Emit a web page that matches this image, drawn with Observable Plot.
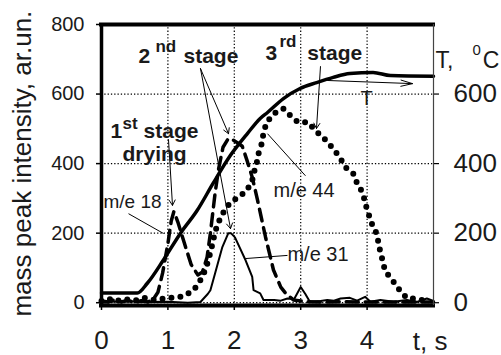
<!DOCTYPE html>
<html>
<head>
<meta charset="utf-8">
<script src="https://cdn.jsdelivr.net/npm/d3@7"></script>
<script src="https://cdn.jsdelivr.net/npm/@observablehq/plot@0.6"></script>
<style>
  html, body { margin: 0; padding: 0; background: #fff; }
  svg { display: block; }
</style>
</head>
<body>
<div id="chart"></div>
<script>
// time (s), value pairs
const tempC = [[0,28],[0.54,28],[0.69,56],[0.93,122],[1.19,200],[1.44,265],[1.68,343],[1.94,423],[2.2,487],[2.39,530],[2.5,547],[2.74,587],[2.99,616],[3.24,633],[3.49,648],[3.74,659],[4.09,662],[4.35,653],[5,651]];

const me18 = [[0,5],[0.1,2],[0.2,9],[0.3,2],[0.4,7],[0.5,0],[0.6,6],[0.7,2],[0.78,10],[0.85,30],[0.92,85],[1.0,170],[1.05,235],[1.09,262],[1.15,232],[1.25,170],[1.35,110],[1.45,80],[1.52,88],[1.59,131],[1.64,200],[1.71,314],[1.76,381],[1.83,447],[1.91,472],[1.98,468],[2.04,461],[2.12,450],[2.19,410],[2.27,361],[2.35,295],[2.47,189],[2.59,94],[2.7,45],[2.77,28],[2.89,8],[3.0,5],[3.1,3],[3.3,2],[3.6,3],[4,2],[4.5,2],[5,2]];

const me31 = [[0,0],[0.3,5],[0.6,2],[1.0,3],[1.3,0],[1.49,2],[1.6,25],[1.64,36],[1.71,84],[1.82,160],[1.91,200],[1.95,200],[2.01,188],[2.17,122],[2.27,74],[2.29,36],[2.39,27],[2.44,8],[2.6,8],[2.7,6],[2.8,12],[2.9,10],[3.0,45],[3.07,25],[3.14,2],[3.3,5],[3.4,8],[3.5,6],[3.6,12],[3.74,14],[3.85,6],[3.97,17],[4.05,3],[4.2,8],[4.4,3],[4.6,8],[4.75,2],[4.9,12],[5,5]];

const me44 = [[0,5],[0.1,12],[0.2,4],[0.35,10],[0.5,6],[0.65,14],[0.8,8],[0.95,12],[1.11,16],[1.23,18],[1.39,36],[1.49,65],[1.56,93],[1.61,122],[1.66,160],[1.71,203],[1.76,231],[1.85,265],[1.94,288],[2.06,303],[2.19,323],[2.27,352],[2.31,385],[2.34,404],[2.37,433],[2.42,461],[2.44,490],[2.49,519],[2.59,543],[2.74,558],[2.84,539],[2.96,519],[3.11,519],[3.22,495],[3.34,475],[3.47,447],[3.59,418],[3.67,390],[3.79,372],[3.85,343],[3.94,314],[3.97,286],[4.02,257],[4.06,232],[4.14,200],[4.17,174],[4.2,145],[4.24,117],[4.27,91],[4.38,65],[4.48,39],[4.6,13],[4.75,11],[4.95,2]];

const leftTicks = [0, 200, 400, 600, 800];
const rightTicks = [0, 200, 400, 600];
const xTicks = [0, 1, 2, 3, 4];
const yLabel = "mass peak intensity, ar.un.";
const xLabel = "t, s";

// annotation texts (anchored in data units)
const boldLabels = [
  {text: "2", t: 0.557, v: 710, size: 21},
  {text: "nd", t: 0.813, v: 738, size: 17},
  {text: "stage", t: 1.235, v: 710, size: 21},
  {text: "3", t: 2.47, v: 716, size: 21},
  {text: "rd", t: 2.68, v: 752, size: 17},
  {text: "stage", t: 3.10, v: 716, size: 21},
  {text: "1", t: 0.136, v: 494, size: 21},
  {text: "st", t: 0.316, v: 516, size: 17},
  {text: "stage", t: 0.633, v: 494, size: 21},
  {text: "drying", t: 0.316, v: 428, size: 21}
];
const plainLabels = [
  {text: "m/e 18", t: 0.03, v: 291, size: 19},
  {text: "m/e 44", t: 2.59, v: 321, size: 20},
  {text: "m/e 31", t: 2.80, v: 137, size: 20},
  {text: "T", t: 3.90, v: 588, size: 20},
  {text: "T,", t: 5.03, v: 696, size: 23},
  {text: "0", t: 5.587, v: 727, size: 15},
  {text: "C", t: 5.74, v: 696, size: 23}
];
const arrows = [
  {t1: 1.491, v1: 673, t2: 1.913, v2: 486},
  {t1: 1.491, v1: 673, t2: 1.943, v2: 213},
  {t1: 1.009, v1: 469, t2: 1.069, v2: 280},
  {t1: 3.298, v1: 679, t2: 3.238, v2: 501}
];
const tArrow = [{t1: 3.404, v1: 639, t2: 4.684, v2: 630}];
const leaders = [
  {t1: 0.407, v1: 256, t2: 0.934, v2: 199},
  {t1: 2.5, v1: 486, t2: 3.072, v2: 365},
  {t1: 2.169, v1: 127, t2: 2.801, v2: 136}
];

const X = d => d[0], Y = d => d[1];
const ink = "#1a1a1a";

const chart = Plot.plot({
  width: 501,
  height: 355,
  marginLeft: 101,
  marginRight: 68,
  marginTop: 24,
  marginBottom: 50,
  x: {domain: [0, 5]},
  y: {domain: [-8, 800]},
  style: {fontFamily: "'Liberation Sans', Arial, sans-serif", background: "#fff", color: ink, overflow: "visible"},
  marks: [
    Plot.ruleY([0, 200, 400, 600], {stroke: "#000", strokeWidth: 1.2, strokeDasharray: "1.3,2"}),
    Plot.ruleX([1, 2, 3, 4], {stroke: "#000", strokeWidth: 1.2, strokeDasharray: "1.3,2"}),
    Plot.line(me44, {x: X, y: Y, stroke: "#000", strokeWidth: 6, strokeDasharray: "0,9", strokeLinecap: "round"}),
    Plot.line(me18, {x: X, y: Y, stroke: "#000", strokeWidth: 3.5, strokeDasharray: "12,7"}),
    Plot.line(me31, {x: X, y: Y, stroke: "#000", strokeWidth: 2}),
    Plot.line(tempC, {x: X, y: Y, stroke: "#000", strokeWidth: 3.5, curve: "monotone-x"}),
    Plot.ruleY([800], {stroke: "#000", strokeWidth: 4, strokeLinecap: "square"}),
    Plot.ruleY([-8], {stroke: "#000", strokeWidth: 4, strokeLinecap: "square"}),
    Plot.ruleX([0], {stroke: "#000", strokeWidth: 3.5}),
    Plot.ruleX([5], {stroke: "#444", strokeWidth: 1.2}),
    Plot.axisY({anchor: "left", ticks: leftTicks, tickFormat: d3.format("d"), tickSize: 5, tickPadding: 12, fontSize: 20, label: null, strokeWidth: 1.5, stroke: "#000", fill: ink}),
    Plot.axisY({anchor: "right", ticks: rightTicks, tickFormat: d3.format("d"), tickSize: 5, tickPadding: 15, fontSize: 26, label: null, strokeWidth: 1.2, stroke: "#000", fill: ink}),
    Plot.axisX({ticks: xTicks, tickFormat: d3.format("d"), tickSize: 5, tickPadding: 20, fontSize: 26, label: null, strokeWidth: 1.5, stroke: "#000", fill: ink}),
    Plot.text([xLabel], {x: 4.95, y: -113, text: d => d, fontSize: 26, fill: ink}),
    Plot.text([yLabel], {x: -1.19, y: 400, text: d => d, fontSize: 26, rotate: -90, fill: ink}),
    Plot.arrow(arrows, {x1: "t1", y1: "v1", x2: "t2", y2: "v2", stroke: "#000", strokeWidth: 1, headLength: 9}),
    Plot.arrow(tArrow, {x1: "t1", y1: "v1", x2: "t2", y2: "v2", stroke: "#000", strokeWidth: 1, headLength: 18, headAngle: 30}),
    Plot.link(leaders, {x1: "t1", y1: "v1", x2: "t2", y2: "v2", stroke: "#000", strokeWidth: 1}),
    Plot.text(boldLabels, {x: "t", y: "v", text: "text", fontSize: "size", fontWeight: "bold", textAnchor: "start", fill: ink}),
    Plot.text(plainLabels, {x: "t", y: "v", text: "text", fontSize: "size", textAnchor: "start", fill: ink})
  ]
});
document.getElementById("chart").appendChild(chart);
</script>
</body>
</html>
